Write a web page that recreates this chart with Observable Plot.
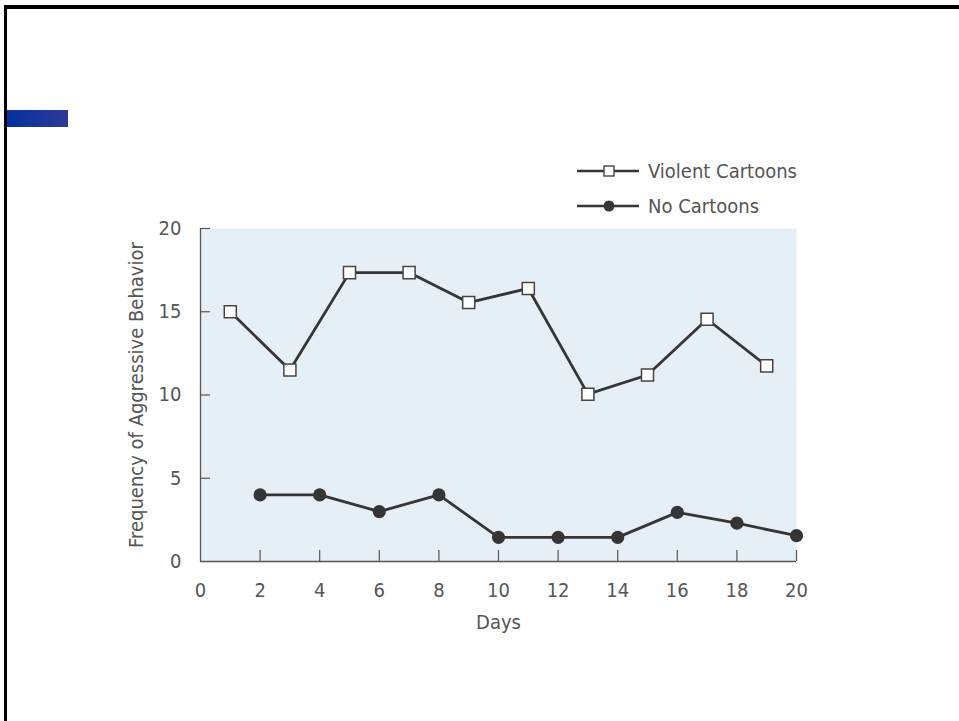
<!DOCTYPE html>
<html><head><meta charset="utf-8">
<script src="https://cdn.jsdelivr.net/npm/d3@7"></script>
<script src="https://cdn.jsdelivr.net/npm/@observablehq/plot@0.6"></script>
<style>
html,body{margin:0;padding:0;background:#fff;}
#page{position:relative;width:959px;height:721px;overflow:hidden;background:#fff;}
#border{position:absolute;left:4px;top:5px;width:960px;height:720px;border-top:4px solid #000;border-left:3px solid #000;box-sizing:border-box;}
#bar{position:absolute;left:7px;top:110px;width:61px;height:17px;background:linear-gradient(to right,#0531a0,#2d3a98);}
#chart{position:absolute;left:0;top:0;}
#legend{position:absolute;left:570px;top:151px;}
</style></head>
<body><div id="page"><div id="border"></div><div id="bar"></div><div id="chart"></div><div id="legend"></div></div>
<script>
// ---- data ----
const seriesNames = ["Violent Cartoons", "No Cartoons"];
const violentDays = [1, 3, 5, 7, 9, 11, 13, 15, 17, 19];
const violentValues = [15, 11.5, 17.35, 17.35, 15.55, 16.4, 10.05, 11.2, 14.55, 11.75];
const noneDays = [2, 4, 6, 8, 10, 12, 14, 16, 18, 20];
const noneValues = [4, 4, 3, 4, 1.45, 1.45, 1.45, 2.95, 2.3, 1.55];
const xTicks = [0, 2, 4, 6, 8, 10, 12, 14, 16, 18, 20];
const yTicks = [0, 5, 10, 15, 20];
const xLabel = "Days";
const yLabel = "Frequency of Aggressive Behavior";

const violent = violentDays.map((d, i) => ({day: d, value: violentValues[i]}));
const none = noneDays.map((d, i) => ({day: d, value: noneValues[i]}));

const FONT = '"DejaVu Sans Condensed", "DejaVu Sans", sans-serif';
const W = 959, H = 721;
const mL = 200, mR = 163, mT = 228, mB = 160;
const plotW = W - mL - mR, plotH = H - mT - mB;
const ink = "#555";
const lineInk = "#353535";

const chart = Plot.plot({
  width: W, height: H,
  marginLeft: mL, marginRight: mR, marginTop: mT, marginBottom: mB,
  style: {fontFamily: FONT, fontSize: "20px", color: ink, background: "transparent", overflow: "visible"},
  x: {domain: [0, 20]},
  y: {domain: [0, 20]},
  marks: [
    Plot.frame({fill: "#e5eff5", stroke: "none"}),
    Plot.ruleX([0], {stroke: ink, strokeWidth: 1.3}),
    Plot.ruleY([0], {stroke: ink, strokeWidth: 1.3}),
    Plot.tickY(yTicks.filter(d => d > 0), {y: d => d, stroke: ink, strokeWidth: 1.2, insetRight: plotW - 10}),
    Plot.tickX(xTicks.filter(d => d > 0), {x: d => d, stroke: ink, strokeWidth: 1.2, insetTop: plotH - 11}),
    Plot.axisY(yTicks, {tickSize: 0, tickPadding: 19, fontSize: 20, label: yLabel, labelAnchor: "center", labelOffset: 72, labelArrow: "none"}),
    Plot.axisX(xTicks, {tickSize: 0, tickPadding: 21, fontSize: 20, label: xLabel, labelAnchor: "center", labelOffset: 67, labelArrow: "none"}),
    Plot.line(violent, {x: "day", y: "value", stroke: lineInk, strokeWidth: 2.8}),
    Plot.line(none, {x: "day", y: "value", stroke: lineInk, strokeWidth: 2.8}),
    Plot.dot(violent, {x: "day", y: "value", symbol: "square", r: 6.8, fill: "white", stroke: "#444", strokeWidth: 1.5}),
    Plot.dot(none, {x: "day", y: "value", r: 6.6, fill: lineInk, stroke: "none"})
  ]
});
document.getElementById("chart").appendChild(chart);

// ---- legend ----
const lg = d3.select("#legend").append("svg").attr("width", 240).attr("height", 75)
  .style("font-family", FONT).style("font-size", "20px");
seriesNames.forEach((name, i) => {
  const g = lg.append("g").attr("transform", `translate(0,${20 + i * 35})`);
  g.append("line").attr("x1", 7).attr("x2", 69).attr("y1", 0).attr("y2", 0).attr("stroke", lineInk).attr("stroke-width", 2.6);
  if (i === 0) {
    g.append("rect").attr("x", 34).attr("y", -5).attr("width", 10).attr("height", 10).attr("fill", "white").attr("stroke", "#444").attr("stroke-width", 1.4);
  } else {
    g.append("circle").attr("cx", 39).attr("cy", 0).attr("r", 5.5).attr("fill", lineInk);
  }
  g.append("text").attr("x", 78).attr("y", 0).attr("dy", "0.35em").attr("fill", ink).text(name);
});
</script>
</body></html>
